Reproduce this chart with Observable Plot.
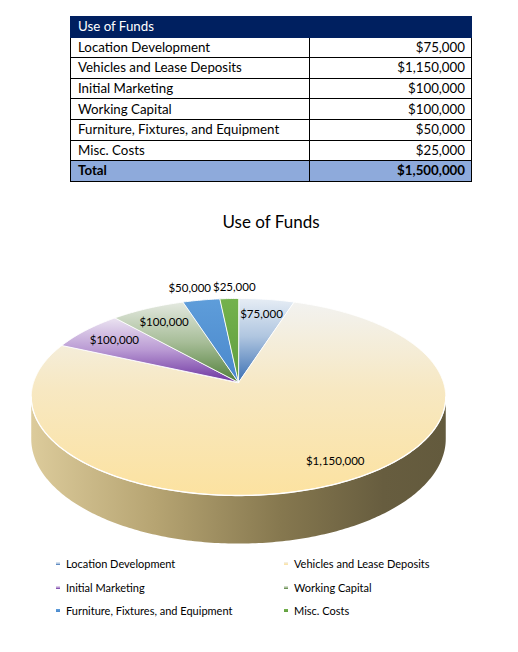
<!DOCTYPE html>
<html>
<head>
<meta charset="utf-8">
<script src="https://cdn.jsdelivr.net/npm/d3@7"></script>
<script src="https://cdn.jsdelivr.net/npm/@observablehq/plot@0.6"></script>
<style>
  body { margin: 0; background: #fff; font-family: Lato, "Open Sans", sans-serif; color: #000; }
  #page { position: relative; width: 518px; height: 652px; overflow: hidden; }
  #funds { position: absolute; left: 70px; top: 16px; width: 401px; border-collapse: collapse; font-size: 13.3px; table-layout: fixed; }
  #funds td { border: 1px solid #000; padding: 0 6px 0 7px; height: 19.6px; line-height: 1; white-space: nowrap; }
  #funds td.num { text-align: right; }
  #funds tr.head td { background: #002060; color: #fff; border-color: #002060; }
  #funds tr.total td { background: #8eaadb; font-weight: bold; }
  #title { position: absolute; left: 0; width: 542px; top: 211px; text-align: center; font-size: 17px; }
  #chart { position: absolute; left: 0; top: 245px; }
  #legend { position: absolute; left: 56px; top: 552px; display: grid; grid-template-columns: 228px auto; grid-auto-rows: 23.5px; align-items: center; font-size: 11px; }
  #legend .item { display: flex; align-items: center; }
  #legend .sw { width: 4px; height: 3px; margin-right: 6px; }
</style>
</head>
<body>
<div id="page">
  <table id="funds"></table>
  <div id="title">Use of Funds</div>
  <div id="chart"></div>
  <div id="legend"></div>
</div>
<script>
// data
const categories = [
  "Location Development",
  "Vehicles and Lease Deposits",
  "Initial Marketing",
  "Working Capital",
  "Furniture, Fixtures, and Equipment",
  "Misc. Costs"
]
const amounts = [75000, 1150000, 100000, 100000, 50000, 25000]

// top face gradients (top -> bottom)
const topStops = [
  [[0, "#e6edf5"], [0.45, "#b0c6e0"], [1, "#3a6fb3"]],
  [[0, "#f2f2f0"], [0.45, "#f7e8c2"], [1, "#fce2a0"]],
  [[0, "#ebe3f1"], [0.5, "#b999d3"], [1, "#6c33a0"]],
  [[0, "#e4e9e0"], [0.5, "#a7bd98"], [1, "#507f38"]],
  [[0, "#5e9dda"], [1, "#4a88cc"]],
  [[0, "#74b24d"], [1, "#5f9d3e"]]
]
const sideStops = [[0, "#dccb9b"], [0.3, "#b6a472"], [0.6, "#86784f"], [0.85, "#675d3f"], [1, "#635a3d"]]

const money = v => "$" + d3.format(",")(v)
const total = d3.sum(amounts)

// table
const table = d3.select("#funds")
table.append("colgroup").call(g => {
  g.append("col").style("width", "239px")
  g.append("col").style("width", "162px")
})
table.append("tr").attr("class", "head").append("td").attr("colspan", 2).text("Use of Funds")
categories.forEach((c, i) => {
  const tr = table.append("tr")
  tr.append("td").text(c)
  tr.append("td").attr("class", "num").text(money(amounts[i]))
})
const tot = table.append("tr").attr("class", "total")
tot.append("td").text("Total")
tot.append("td").attr("class", "num").text(money(total))

// 3d pie geometry
const cx = 238, cy = 382, rx = 205, ry = 96.4, tilt = 0.147, depth = 41

function project(a, f, drop = 0) {
  const c = Math.cos(a), s = Math.sin(a)
  const p = 1 / (1 + tilt * f * c)
  return {x: cx + rx * f * s * p, y: cy + (-ry * f * c + drop) * p}
}

const arcs = d3.pie().sort(null)(amounts)

let slicePts = []
arcs.forEach((a, i) => {
  const n = Math.max(2, Math.ceil((a.endAngle - a.startAngle) / 0.01))
  slicePts.push({...project(0, 0), name: categories[i], fill: `url(#top${i})`})
  for (let j = 0; j <= n; j++) {
    const t = a.startAngle + (a.endAngle - a.startAngle) * j / n
    slicePts.push({...project(t, 1), name: categories[i], fill: `url(#top${i})`})
  }
})

// visible side wall, between the two silhouette points
const aR = Math.acos(-tilt), aL = 2 * Math.PI - aR
const rimPts = d3.range(0, 201).map(j => project(aR + (aL - aR) * j / 200, 1))
const sidePts = rimPts
  .concat(d3.range(200, -1, -1).map(j => project(aR + (aL - aR) * j / 200, 1, depth)))
  .map(d => ({...d, fill: "url(#side)"}))

// labels
let labels = arcs.map((a, i) => {
  const frac = a.value / total
  const m = (a.startAngle + a.endAngle) / 2
  const out = frac < 0.04
  const pos = project(m, out ? 1.16 : 0.8)
  return {x: pos.x + (frac > 0.5 ? 22 : 0), y: pos.y, text: money(a.value), out}
})
// push outside labels apart
const outs = labels.filter(d => d.out).sort((a, b) => a.x - b.x)
for (let k = 1; k < outs.length; k++) {
  const need = (outs[k].text.length + outs[k - 1].text.length) * 2.9 + 4
  const gap = outs[k].x - outs[k - 1].x
  if (gap < need) {
    outs[k - 1].x -= (need - gap) / 2
    outs[k].x += (need - gap) / 2
  }
}

const H = 310
let chart = Plot.plot({
  width: 518,
  height: H,
  margin: 0,
  x: {domain: [0, 518], range: [0, 518], axis: null},
  y: {domain: [245, 245 + H], range: [0, H], axis: null},
  color: {type: "identity"},
  style: {fontFamily: "Lato, sans-serif", fontSize: "11px", background: "transparent", overflow: "visible"},
  marks: [
    Plot.line(sidePts, {x: "x", y: "y", fill: "fill", stroke: null, curve: "linear-closed"}),
    Plot.line(slicePts, {x: "x", y: "y", z: "name", fill: "fill", stroke: "#fff", strokeWidth: 0.9, curve: "linear-closed"}),
    Plot.line(rimPts, {x: "x", y: "y", stroke: "#fff", strokeWidth: 1.3}),
    Plot.text(labels, {x: "x", y: "y", text: "text", fill: "#000", fontSize: 11.5})
  ]
})

const defs = d3.select(chart).insert("defs", ":first-child")
topStops.forEach((stops, i) => {
  const g = defs.append("linearGradient").attr("id", "top" + i)
    .attr("x1", 0).attr("y1", 0).attr("x2", 0).attr("y2", 1)
  stops.forEach(([o, c]) => g.append("stop").attr("offset", o).attr("stop-color", c))
})
const sg = defs.append("linearGradient").attr("id", "side")
  .attr("x1", 0).attr("y1", 0).attr("x2", 1).attr("y2", 0)
sideStops.forEach(([o, c]) => sg.append("stop").attr("offset", o).attr("stop-color", c))

d3.select("#chart").append(() => chart)

// legend, two columns
const legend = d3.select("#legend")
categories.forEach((c, i) => {
  const it = legend.append("div").attr("class", "item")
  it.append("span").attr("class", "sw")
    .style("background", `linear-gradient(to bottom, ${topStops[i].map(s => s[1]).join(", ")})`)
  it.append("span").text(c)
})
</script>
</body>
</html>
